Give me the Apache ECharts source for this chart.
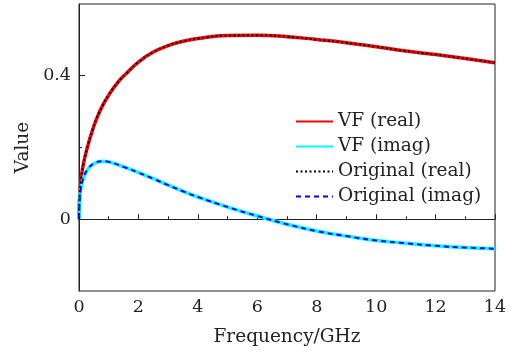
<!DOCTYPE html>
<html>
<head>
<meta charset="utf-8">
<script src="https://cdn.jsdelivr.net/npm/echarts@6/dist/echarts.min.js"></script>
<style>
html,body{margin:0;padding:0;background:#fff;}
#chart{width:515px;height:354px;}
</style>
</head>
<body>
<div id="chart"></div>
<script>
// 数据
var freqReal = [0, 0.02, 0.07, 0.15, 0.3, 0.45, 0.6, 0.8, 1.0, 1.3, 1.6, 2.0, 2.5, 3.0, 3.5, 4.0, 5.0, 6.0, 7.0, 8.0, 9.0, 10.0, 11.0, 12.0, 13.0, 14.0];
var realVals = [0, 0.063, 0.11, 0.155, 0.206, 0.247, 0.282, 0.318, 0.346, 0.381, 0.407, 0.438, 0.466, 0.484, 0.496, 0.504, 0.512, 0.513, 0.509, 0.501, 0.492, 0.481, 0.469, 0.459, 0.448, 0.436];
var freqImag = [0, 0.02, 0.05, 0.15, 0.3, 0.5, 0.8, 1.0, 1.5, 2.0, 2.5, 3.0, 3.5, 4.0, 5.0, 6.0, 7.0, 8.0, 9.0, 10.0, 11.0, 12.0, 13.0, 14.0];
var imagVals = [0, 0.05, 0.08, 0.115, 0.14, 0.155, 0.162, 0.160, 0.146, 0.130, 0.113, 0.095, 0.078, 0.062, 0.034, 0.009, -0.014, -0.033, -0.047, -0.059, -0.067, -0.074, -0.079, -0.082];
var xTicks = [0, 2, 4, 6, 8, 10, 12, 14];
var yLabels = [0, 0.4];
var yMinorTicks = [0.2];
var seriesNames = ['VF (real)', 'VF (imag)', 'Original (real)', 'Original (imag)'];

function pairs(xs, ys){
    var out = [];
    for(var i = 0; i < xs.length; i++) out.push([xs[i], ys[i]]);
    return out;
}

var font = 'DejaVu Serif';
var txt = '#222';
var chart = echarts.init(document.getElementById('chart'));
chart.setOption({
    animation: false,
    textStyle: {fontFamily: font},
    grid: {left: 79, right: 20, top: 4, bottom: 63, show: true, borderColor: '#222', borderWidth: 1},
    legend: {
        orient: 'vertical', left: 290, top: 107,
        itemWidth: 37, itemHeight: 12, itemGap: 6,
        itemStyle: {opacity: 0},
        textStyle: {fontFamily: font, fontSize: 18.5, color: txt},
        data: seriesNames
    },
    xAxis: {
        type: 'value', min: 0, max: 14, interval: 2,
        name: 'Frequency/GHz', nameLocation: 'middle', nameGap: 37,
        nameTextStyle: {fontFamily: font, fontSize: 18.5, color: txt},
        axisLine: {lineStyle: {color: '#222', width: 1}},
        axisTick: {inside: true, length: 5, lineStyle: {color: '#222'}, customValues: xTicks},
        minorTick: {show: true, splitNumber: 2, length: 3, lineStyle: {color: '#222'}},
        axisLabel: {fontFamily: font, fontSize: 17.5, color: txt, margin: 7, customValues: xTicks},
        splitLine: {show: false}
    },
    yAxis: [{
        type: 'value', min: -0.2, max: 0.6,
        name: 'Value', nameLocation: 'middle', nameGap: 42,
        nameTextStyle: {fontFamily: font, fontSize: 18.5, color: txt},
        axisLine: {show: true, lineStyle: {color: '#222', width: 1}},
        axisTick: {show: true, inside: true, length: 6, lineStyle: {color: '#222'}, customValues: yLabels},
        axisLabel: {fontFamily: font, fontSize: 17.5, color: txt, margin: 8, customValues: yLabels,
            formatter: function(v){ return v === 0 ? '0' : String(v); }},
        splitLine: {show: false}
    }, {
        // 次刻度
        type: 'value', min: -0.2, max: 0.6, position: 'left',
        axisLine: {show: false},
        axisTick: {show: true, inside: true, length: 3, lineStyle: {color: '#222'}, customValues: yMinorTicks},
        axisLabel: {show: false},
        splitLine: {show: false}
    }],
    series: [
        {name: seriesNames[0], type: 'line', symbol: 'none', smooth: true, data: pairs(freqReal, realVals),
            lineStyle: {color: '#ff0000', width: 3.5}, itemStyle: {color: '#ff0000'}},
        {name: seriesNames[1], type: 'line', symbol: 'none', smooth: true, data: pairs(freqImag, imagVals),
            lineStyle: {color: '#00ffff', width: 3.5}, itemStyle: {color: '#00ffff'}},
        {name: seriesNames[2], type: 'line', symbol: 'none', smooth: true, data: pairs(freqReal, realVals),
            lineStyle: {color: '#000000', width: 2, type: [2, 2.5]}, itemStyle: {color: '#000000'}},
        {name: seriesNames[3], type: 'line', symbol: 'none', smooth: true, data: pairs(freqImag, imagVals),
            lineStyle: {color: '#0000ff', width: 2, type: [5, 4]}, itemStyle: {color: '#0000ff'}}
    ]
});
</script>
</body>
</html>
